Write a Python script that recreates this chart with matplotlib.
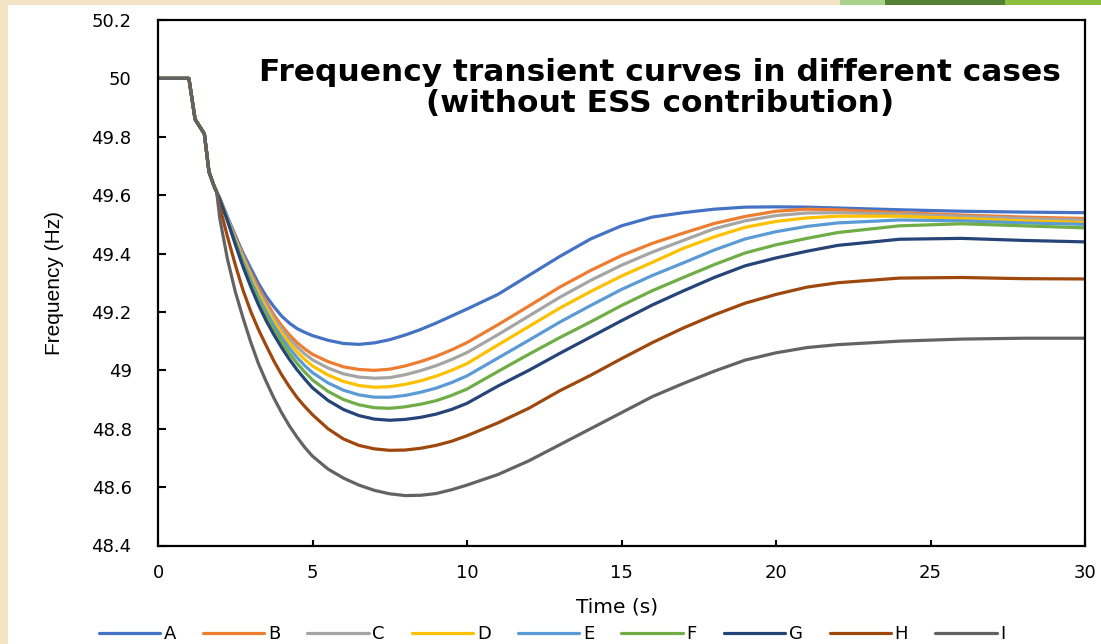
import matplotlib
matplotlib.use("Agg")
import matplotlib.pyplot as plt
from matplotlib.patches import Rectangle

# ---------------- data ----------------
time_s = [0, 1, 1.1, 1.2, 1.35, 1.5, 1.65, 1.8, 1.9,
          2, 2.25, 2.5, 2.75, 3, 3.25, 3.5, 3.75, 4, 4.25, 4.5, 4.75, 5,
          5.5, 6, 6.5, 7, 7.5, 8, 8.5, 9, 9.5, 10,
          11, 12, 13, 14, 15, 16, 17, 18, 19, 20, 21, 22,
          24, 26, 28, 30]

start = [50, 50, 49.93, 49.86, 49.835, 49.81, 49.68, 49.635, 49.61]

case_A = start + [49.59, 49.525, 49.462, 49.402, 49.35, 49.298, 49.254, 49.218, 49.186,
                  49.162, 49.143, 49.13, 49.119, 49.103, 49.092, 49.089, 49.094, 49.105,
                  49.121, 49.14, 49.162, 49.186, 49.21,
                  49.26, 49.325, 49.39, 49.45, 49.495, 49.525, 49.54, 49.552, 49.559,
                  49.56, 49.559, 49.556, 49.55, 49.545, 49.542, 49.54]
case_B = start + [49.588, 49.52, 49.455, 49.394, 49.335, 49.283, 49.236, 49.19, 49.153,
                  49.122, 49.095, 49.073, 49.055, 49.03, 49.012, 49.003, 49.0, 49.004,
                  49.015, 49.03, 49.048, 49.07, 49.095,
                  49.156, 49.22, 49.285, 49.342, 49.393, 49.435, 49.47, 49.503, 49.527,
                  49.545, 49.552, 49.55, 49.54, 49.532, 49.525, 49.52]
case_C = start + [49.588, 49.519, 49.451, 49.388, 49.327, 49.273, 49.225, 49.179, 49.141,
                  49.108, 49.08, 49.056, 49.036, 49.008, 48.988, 48.977, 48.973, 48.975,
                  48.985, 48.999, 49.016, 49.037, 49.061,
                  49.122, 49.186, 49.25, 49.308, 49.36, 49.405, 49.445, 49.485, 49.512,
                  49.53, 49.539, 49.54, 49.535, 49.528, 49.52, 49.514]
case_D = start + [49.587, 49.517, 49.447, 49.381, 49.318, 49.263, 49.213, 49.167, 49.127,
                  49.093, 49.063, 49.037, 49.015, 48.984, 48.962, 48.948, 48.942, 48.944,
                  48.952, 48.964, 48.98, 49.0, 49.023,
                  49.087, 49.15, 49.213, 49.27, 49.323, 49.37, 49.418, 49.457, 49.49,
                  49.51, 49.522, 49.528, 49.528, 49.52, 49.512, 49.506]
case_E = start + [49.586, 49.516, 49.442, 49.373, 49.309, 49.251, 49.2, 49.153, 49.112,
                  49.076, 49.044, 49.016, 48.992, 48.957, 48.932, 48.916, 48.908, 48.908,
                  48.914, 48.925, 48.939, 48.958, 48.981,
                  49.042, 49.103, 49.165, 49.222, 49.277, 49.325, 49.368, 49.412, 49.45,
                  49.475, 49.493, 49.505, 49.515, 49.512, 49.505, 49.5]
case_F = start + [49.586, 49.514, 49.437, 49.364, 49.298, 49.239, 49.185, 49.138, 49.096,
                  49.058, 49.024, 48.994, 48.967, 48.928, 48.9, 48.882, 48.872, 48.87,
                  48.875, 48.884, 48.896, 48.914, 48.936,
                  48.996, 49.055, 49.112, 49.166, 49.222, 49.273, 49.318, 49.362, 49.402,
                  49.43, 49.452, 49.472, 49.495, 49.502, 49.495, 49.488]
case_G = start + [49.585, 49.512, 49.432, 49.355, 49.287, 49.225, 49.17, 49.122, 49.078,
                  49.038, 49.002, 48.97, 48.94, 48.897, 48.866, 48.845, 48.833, 48.829,
                  48.832, 48.839, 48.85, 48.866, 48.887,
                  48.946, 49.0, 49.058, 49.114, 49.17, 49.224, 49.272, 49.318, 49.358,
                  49.385, 49.408, 49.428, 49.449, 49.452, 49.445, 49.44]
case_H = start + [49.56, 49.457, 49.362, 49.275, 49.202, 49.14, 49.085, 49.032, 48.985,
                  48.944, 48.907, 48.876, 48.848, 48.8, 48.765, 48.743, 48.731, 48.726,
                  48.727, 48.733, 48.743, 48.757, 48.776,
                  48.82, 48.87, 48.93, 48.983, 49.04, 49.095, 49.145, 49.19, 49.23,
                  49.26, 49.285, 49.3, 49.316, 49.318, 49.314, 49.313]
case_I = start + [49.52, 49.38, 49.27, 49.18, 49.097, 49.023, 48.962, 48.905, 48.855,
                  48.81, 48.771, 48.736, 48.706, 48.662, 48.631, 48.607, 48.589, 48.577,
                  48.571, 48.572, 48.578, 48.591, 48.607,
                  48.643, 48.69, 48.745, 48.8, 48.855, 48.91, 48.955, 48.997, 49.035,
                  49.06, 49.078, 49.088, 49.1, 49.107, 49.11, 49.11]

series_names = ["A", "B", "C", "D", "E", "F", "G", "H", "I"]
series_colors = ["#4472C4", "#ED7D31", "#A5A5A5", "#FFC000", "#5B9BD5",
                 "#70AD47", "#264478", "#9E480E", "#636363"]

x_ticks = [0, 5, 10, 15, 20, 25, 30]
y_ticks = [48.4, 48.6, 48.8, 49.0, 49.2, 49.4, 49.6, 49.8, 50.0, 50.2]
y_tick_labels = ["48.4", "48.6", "48.8", "49", "49.2", "49.4", "49.6", "49.8", "50", "50.2"]

title_text = "Frequency transient curves in different cases\n(without ESS contribution)"

# ---------------- figure ----------------
W, H = 1101, 644
fig = plt.figure(figsize=(W / 100, H / 100), dpi=100)
fig.patch.set_facecolor("#F3E4C6")

# white chart area
fig.patches.append(Rectangle((8 / W, 0), 1 - 8 / W, 1 - 5 / H, transform=fig.transFigure,
                             facecolor="white", edgecolor="none", zorder=-10))
# green decoration strip at top right
for x0, x1, c in [(840, 885, "#A9D18E"), (885, 1005, "#548235"), (1005, 1101, "#8DBE3F")]:
    fig.patches.append(Rectangle((x0 / W, 1 - 5 / H), (x1 - x0) / W, 5 / H,
                                 transform=fig.transFigure, facecolor=c,
                                 edgecolor="none", zorder=-10))

ax = fig.add_axes([158 / W, 1 - 545.5 / H, (1085 - 158) / W, (545.5 - 20) / H])
ax.set_facecolor("white")

all_series = [case_A, case_B, case_C, case_D, case_E, case_F, case_G, case_H, case_I]
for name, vals, col in zip(series_names, all_series, series_colors):
    ax.plot(time_s, vals, color=col, lw=2.3, label=name, solid_capstyle="round",
            solid_joinstyle="round")

ax.set_xlim(0, 30)
ax.set_ylim(48.4, 50.2)
ax.set_xticks(x_ticks)
ax.set_xticklabels([str(t) for t in x_ticks])
ax.set_yticks(y_ticks)
ax.set_yticklabels(y_tick_labels)

for sp in ax.spines.values():
    sp.set_linewidth(1.6)
    sp.set_color("black")

ax.tick_params(axis="y", direction="in", length=5.5, width=1.5, pad=19,
               labelsize=13, colors="black")
ax.tick_params(axis="x", direction="in", length=4, width=1.5, pad=13,
               labelsize=13, colors="black")

ax.set_xlabel("Time (s)", fontsize=14.5)
ax.xaxis.set_label_coords((617 - 158) / (1085 - 158), -(607 - 545.5) / (545.5 - 20))
ax.xaxis.label.set_va("center")
ax.set_ylabel("Frequency (Hz)", fontsize=15, family="Liberation Sans")
ax.yaxis.set_label_coords((55 - 158) / (1085 - 158), 0.5)
ax.yaxis.label.set_va("center")

ax.text(0.542, 0.928, title_text, transform=ax.transAxes, ha="center", va="top",
        fontsize=22.5, fontweight="bold", linespacing=1.1)

handles, labels = ax.get_legend_handles_labels()
fig.legend(handles, labels, loc="center", bbox_to_anchor=(552 / W, 1 - 634 / H),
           ncol=9, frameon=False, fontsize=13, handlelength=3.4, handletextpad=0.2,
           columnspacing=1.5, borderaxespad=0)

fig.savefig("out.png", dpi=100, facecolor=fig.get_facecolor())
